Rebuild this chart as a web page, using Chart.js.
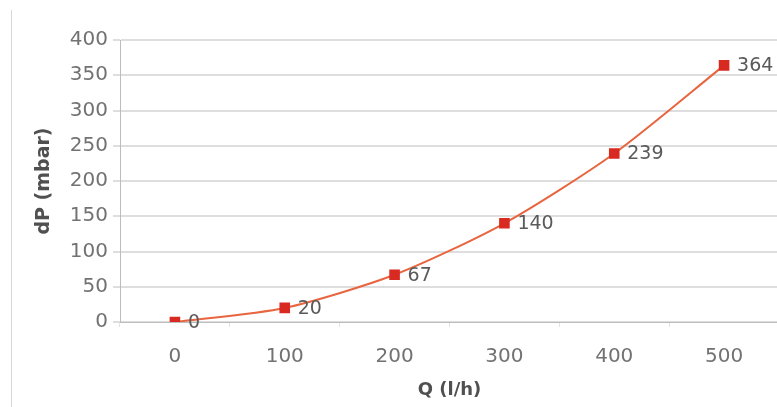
<!DOCTYPE html>
<html>
<head>
<meta charset="utf-8">
<script src="https://cdn.jsdelivr.net/npm/chart.js@4/dist/chart.umd.min.js"></script>
<style>
  html,body{margin:0;padding:0;background:#fff;overflow:hidden}
  #wrap{position:relative;width:800px;height:407px}
  #frame{position:absolute;left:11px;top:10px;width:0;height:397px;border-left:1px solid #d6d6d6}
</style>
</head>
<body>
<div id="wrap">
  <div id="frame"></div>
  <canvas id="chart" width="800" height="407"></canvas>
</div>
<script>
const flows = ["0", "100", "200", "300", "400", "500"];
const dropValues = [0, 20, 67, 140, 239, 364];
const yTitle = "dP (mbar)";
const xTitle = "Q (l/h)";

// value labels to the right of each marker
const pointLabels = {
  id: "pointLabels",
  afterDatasetsDraw(chart){
    const ctx = chart.ctx;
    const meta = chart.getDatasetMeta(0);
    ctx.save();
    ctx.font = "19px 'DejaVu Sans'";
    ctx.fillStyle = "#5a5a5a";
    ctx.textAlign = "left";
    ctx.textBaseline = "middle";
    meta.data.forEach((pt, i) => {
      ctx.fillText(String(dropValues[i]), pt.x + 13, pt.y + 1);
    });
    ctx.restore();
  }
};

new Chart(document.getElementById("chart"), {
  type: "line",
  data: {
    labels: flows,
    datasets: [{
      data: dropValues,
      borderColor: "#e8653f",
      borderWidth: 2,
      backgroundColor: "#d92a22",
      pointBackgroundColor: "#d92a22",
      pointBorderColor: "#d92a22",
      pointStyle: "rect",
      pointRadius: 7.5,
      pointBorderWidth: 0,
      tension: 0.25,
      fill: false
    }]
  },
  options: {
    responsive: false,
    animation: false,
    events: [],
    layout: { padding: { top: 40, right: 21, left: 0, bottom: 0 } },
    plugins: { legend: { display: false }, tooltip: { enabled: false } },
    scales: {
      x: {
        offset: true,
        afterFit(s){ s.height = 85; },
        grid: { offset: true, drawOnChartArea: false, tickLength: 5, color: "#e2e2e2" },
        border: { color: "#bdbdbd" },
        ticks: { color: "#727272", font: { family: "DejaVu Sans", size: 20 }, padding: 18, maxRotation: 0 },
        title: { display: true, text: xTitle, color: "#505050", font: { family: "DejaVu Sans", size: 18, weight: "bold" }, padding: { top: 0, bottom: 6 } }
      },
      y: {
        min: 0, max: 400,
        afterFit(s){ s.width = 120; },
        grid: { color: "#dedede", lineWidth: 2, tickLength: 7 },
        border: { color: "#bdbdbd" },
        ticks: { stepSize: 50, color: "#727272", font: { family: "DejaVu Sans", size: 20 }, padding: 5 },
        title: { display: true, text: yTitle, color: "#505050", font: { family: "DejaVu Sans", size: 19, weight: "bold" }, padding: { top: 33, bottom: 0 } }
      }
    }
  },
  plugins: [pointLabels]
});
</script>
</body>
</html>
